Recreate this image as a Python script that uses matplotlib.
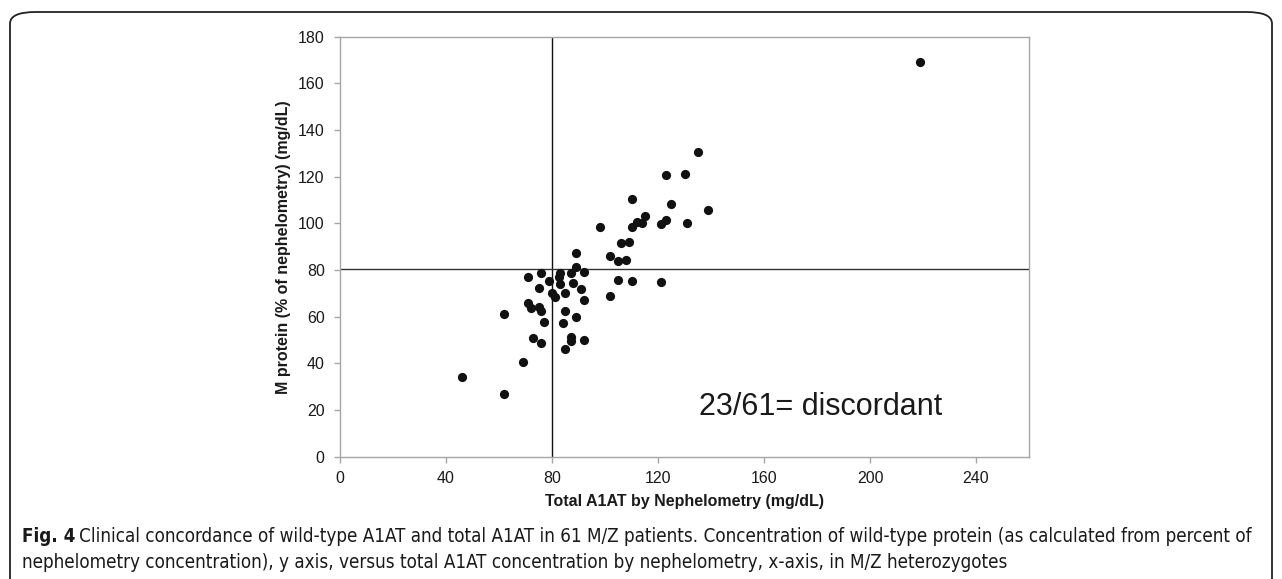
import matplotlib
matplotlib.use("Agg")
import matplotlib.pyplot as plt
from matplotlib import font_manager
from matplotlib.patches import FancyBboxPatch

# total A1AT by nephelometry (mg/dL) vs M protein (mg/dL)
total_a1at = [219, 135, 123, 130, 110, 125, 139, 98, 115, 112, 114, 110, 121, 123,
              131, 106, 109, 89, 102, 105, 108, 89,
              71, 76, 83, 82.5, 87, 92, 79, 83, 88, 105, 110, 121, 75, 91, 80, 85,
              81, 102, 92, 71, 72, 75, 76, 85, 62, 89, 77, 84, 73, 87, 87, 92, 76,
              85, 69, 46, 62]
m_protein = [169.2, 130.5, 120.6, 121.0, 110.4, 108.2, 105.6, 98.5, 103.0, 100.6,
             100.0, 98.5, 99.7, 101.6, 100.2, 91.5, 92.2, 87.5, 85.9, 84.0, 84.4, 81.3,
             77.2, 78.7, 78.6, 77.1, 78.9, 79.0, 75.2, 73.9, 74.5, 75.9, 75.4, 75.0,
             72.3, 72.0, 70.0, 70.0, 68.3, 69.0, 67.2, 65.9, 63.6, 64.3, 62.6, 62.6,
             61.0, 59.9, 57.9, 57.4, 51.0, 51.4, 49.7, 49.9, 48.6, 46.0, 40.6, 34.3,
             27.0]

x_ticks = [0, 40, 80, 120, 160, 200, 240]
y_ticks = [0, 20, 40, 60, 80, 100, 120, 140, 160, 180]
x_cut = 80
y_cut = 80.5

caption_bold = "Fig. 4"
caption_line1 = ("Clinical concordance of wild-type A1AT and total A1AT in 61 M/Z patients. "
                 "Concentration of wild-type protein (as calculated from percent of")
caption_line2 = ("nephelometry concentration), y axis, versus total A1AT concentration by "
                 "nephelometry, x-axis, in M/Z heterozygotes")

plt.rcParams['font.family'] = ['Liberation Sans', 'DejaVu Sans']

W, H = 1282, 579
fig = plt.figure(figsize=(W / 100, H / 100), dpi=100)

# rounded frame around the whole figure
frame = FancyBboxPatch((10 / W, -0.05), 1262 / W, (H - 12) / H + 0.05,
                       boxstyle="round,pad=0,rounding_size=0.02",
                       transform=fig.transFigure, fill=False,
                       edgecolor='#222222', linewidth=1.3)
fig.patches.append(frame)

ax = fig.add_axes([340 / W, (H - 456.7) / H, 689 / W, 420 / H])
ax.scatter(total_a1at, m_protein, s=44, color='#111111', zorder=3, linewidths=0)
ax.axvline(x_cut, color='#111111', linewidth=1.0, zorder=2)
ax.axhline(y_cut, color='#333333', linewidth=1.0, zorder=2)

ax.set_xlim(0, 260)
ax.set_ylim(0, 180)
ax.set_xticks(x_ticks)
ax.set_yticks(y_ticks)
for sp in ax.spines.values():
    sp.set_color('#a6a6a6')
    sp.set_linewidth(1.0)
ax.tick_params(axis='both', direction='out', length=4, width=1.0, color='#a6a6a6',
               labelsize=11.5, labelcolor='#1a1a1a')
ax.tick_params(axis='x', pad=6)
ax.tick_params(axis='y', pad=7)

ax.set_xlabel("Total A1AT by Nephelometry (mg/dL)", fontsize=11.5, fontweight='bold',
              color='#1a1a1a', labelpad=6)
ax.set_ylabel("M protein (% of nephelometry) (mg/dL)", fontsize=11.5, fontweight='bold',
              color='#1a1a1a', labelpad=5)

ax.text(135.5, 17.9, "23/61= discordant", fontsize=22, color='#1a1a1a',
        ha='left', va='baseline')


def find_face(names, bold):
    want = 700 if bold else 400
    for name, stretch in names:
        for f in font_manager.fontManager.ttflist:
            if f.name != name or f.style != 'normal':
                continue
            if stretch is not None and f.stretch != stretch:
                continue
            if f.weight == want or (not bold and f.weight in ('normal', 'regular')) \
                    or (bold and f.weight == 'bold'):
                return font_manager.FontProperties(fname=f.fname)
    fp = font_manager.FontProperties(family='Liberation Sans')
    if bold:
        fp.set_weight('bold')
    return fp


# caption in a narrow face if one is present
narrow = [('DejaVu Sans', 'condensed'), ('Liberation Sans Narrow', None)]
fp = find_face(narrow, False)
fpb = find_face(narrow, True)

renderer = fig.canvas.get_renderer()
tb = fig.text(22 / W, 1 - 537 / H, caption_bold, fontproperties=fpb, va='center',
              color='#1a1a1a')
t1 = fig.text(0, 1 - 537 / H, caption_line1, fontproperties=fp, va='center',
              color='#1a1a1a')
t2 = fig.text(22 / W, 1 - 563 / H, caption_line2, fontproperties=fp, va='center',
              color='#1a1a1a')

# fit the first caption line to the width it has in the figure
size = 10.0
for t in (tb, t1, t2):
    t.set_fontsize(size)
wb = tb.get_window_extent(renderer).width
w1 = t1.get_window_extent(renderer).width
gap = size * 0.3
size = size * (1259 - 22) / (wb + gap + w1)
for t in (tb, t1, t2):
    t.set_fontsize(size)
wb = tb.get_window_extent(renderer).width
t1.set_x((22 + wb + size * 0.3) / W)

fig.savefig("out.png", dpi=100)
